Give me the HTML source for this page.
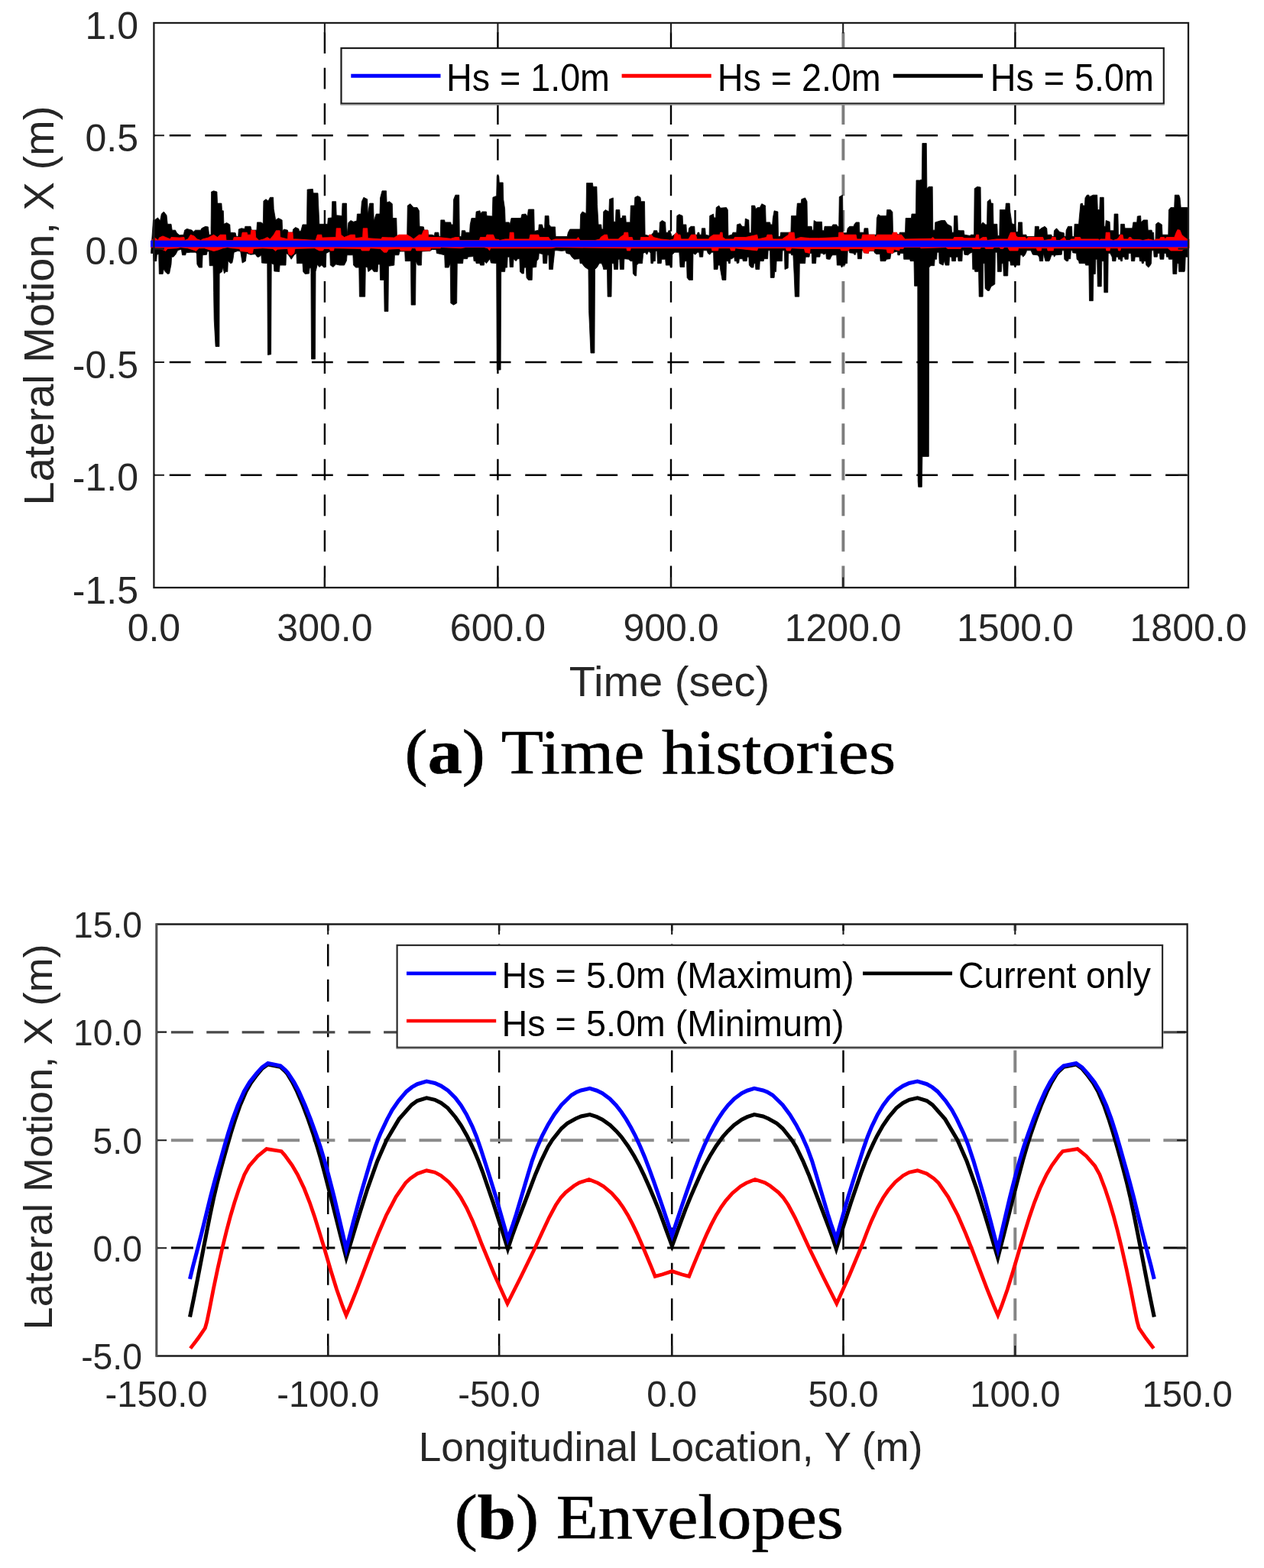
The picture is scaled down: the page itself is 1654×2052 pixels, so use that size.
<!DOCTYPE html>
<html lang="en"><head><meta charset="utf-8"><title>Lateral motion: time histories and envelopes</title>
<style>html,body{margin:0;padding:0;background:#fff;overflow:hidden}svg{display:block}.t{font-family:"Liberation Sans",sans-serif;fill:#262626}.c{font-family:"Liberation Serif",serif;fill:#000}</style></head><body>
<svg width="1654" height="2052" viewBox="0 0 1654 2052" role="img" aria-label="Lateral motion time histories and envelopes">
<rect width="1654" height="2052" fill="#fff"/>
<g id="plot-a">
<line x1="424.9" y1="769" x2="424.9" y2="30" stroke="#000" stroke-width="2.4" stroke-dasharray="27.8 18.75" stroke-dashoffset="45.8"/>
<line x1="651.4" y1="769" x2="651.4" y2="30" stroke="#000" stroke-width="2.4" stroke-dasharray="27.8 18.75" stroke-dashoffset="45.8"/>
<line x1="878" y1="769" x2="878" y2="30" stroke="#000" stroke-width="2.4" stroke-dasharray="27.8 18.75" stroke-dashoffset="45.8"/>
<line x1="1103.4" y1="769" x2="1103.4" y2="30" stroke="#7d7d7d" stroke-width="3.9" stroke-dasharray="27.8 18.75" stroke-dashoffset="45.8"/>
<line x1="1328.4" y1="769" x2="1328.4" y2="30" stroke="#000" stroke-width="2.4" stroke-dasharray="27.8 18.75" stroke-dashoffset="45.8"/>
<line x1="201.4" y1="177.2" x2="1555" y2="177.2" stroke="#000" stroke-width="2.4" stroke-dasharray="27.8 18.75" stroke-dashoffset="26.2"/>
<line x1="201.4" y1="325.6" x2="1555" y2="325.6" stroke="#000" stroke-width="2.4" stroke-dasharray="27.8 18.75" stroke-dashoffset="26.2"/>
<line x1="201.4" y1="474" x2="1555" y2="474" stroke="#000" stroke-width="2.6" stroke-dasharray="27.8 18.75" stroke-dashoffset="26.2"/>
<line x1="201.4" y1="621.7" x2="1555" y2="621.7" stroke="#000" stroke-width="2.4" stroke-dasharray="27.8 18.75" stroke-dashoffset="26.2"/>
<path d="M200.5,287.9 L202.3,287.9 L206.5,284.9 L209.5,289.1 L211.3,280 L214.3,277 L218,281.8 L219.2,293.3 L224,293.3 L225.2,301.2 L229.5,301.2 L231.3,304.8 L234.9,307.8 L240.3,307.2 L241.6,301.2 L244.6,299.4 L251.2,301.2 L253,303.6 L255.5,301.2 L262.7,301.2 L263.9,298.8 L268.8,296.3 L272.4,296.9 L273.6,307.2 L276,307.2 L276.6,251 L279.6,249.8 L283.9,251 L284.5,266.1 L289.9,266.1 L290.5,275.8 L292.3,275.8 L292.9,293.3 L296.6,291.5 L300.8,293.9 L301.4,304.2 L308.1,304.8 L309.3,309.6 L311.7,309.6 L312.3,300 L315.9,298.8 L320.1,299.4 L320.8,296.3 L328,296.3 L329.2,301.2 L335.9,301.2 L336.5,290.9 L341.3,290.9 L344.3,292.7 L344.9,263.1 L348,260.7 L351,263.1 L353.4,258.3 L357.6,258.3 L358.2,273.4 L360.7,287.9 L364.3,285.5 L369.1,287.9 L369.7,302.4 L371.5,300 L376.4,301.2 L377,304.2 L383,304.2 L383.6,300 L386.7,297.5 L390.9,299.4 L391.5,302.4 L393.6,302.4 L396,293.9 L401.5,293.9 L402.1,248 L409.3,247.4 L410,252.8 L416,252.8 L417.8,293.3 L428.7,293.3 L429.3,285.5 L434.1,284.9 L434.7,263.7 L439.6,263.7 L440.2,281.8 L447.4,282.4 L448,266.1 L453.5,266.1 L454.1,307.2 L455.9,291.5 L458.9,288.5 L462.5,290.3 L466.8,289.1 L467.4,280 L472.2,280 L473.4,263.7 L475.9,258.3 L480.7,260.7 L481.3,280.6 L483.7,266.1 L488.5,266.1 L489.2,289.1 L492.2,280 L497,280 L497.6,258.9 L500,249.8 L505.5,249.8 L506.1,264.9 L509.7,263.7 L513.3,266.7 L513.9,285.5 L518.8,285.5 L519.4,308.4 L532.7,308.4 L533.3,269.1 L536.9,266.7 L541.1,271.6 L546,271.6 L548.4,275.8 L549,296.3 L554.4,296.9 L555.1,301.2 L559.9,301.2 L560.5,307.2 L565.3,307.2 L568.4,308.4 L569,304.2 L573.8,304.2 L574.4,309.6 L576.2,309.6 L576.8,287.9 L581.7,287.9 L582.3,290.9 L589.8,290.9 L590.4,293.9 L592.9,293.9 L593.5,261.3 L595.9,255.2 L600.7,255.2 L601.3,309.6 L603.7,309.6 L604.3,301.8 L608.6,301.8 L609.2,304.2 L614.6,304.2 L615.2,293.9 L617,285.5 L622.5,285.5 L623.1,277 L627.9,275.8 L629.1,279.4 L630.9,277 L636.4,277 L637,282.4 L644.2,283 L644.9,258.3 L649.7,256.4 L650.3,230.4 L652.7,230.4 L653.3,238.9 L658.2,238.9 L658.8,261.3 L660.6,273.4 L661.2,290.9 L666,290.9 L667.2,293.9 L669,285.5 L681.7,285.5 L682.9,280.6 L687.8,280 L690.2,283 L691.4,274 L698.7,274 L699.3,302.4 L704.7,301.2 L705.3,293.9 L709.5,293.9 L710.8,298.8 L712.6,298.8 L713.2,282.4 L718,282.4 L718.6,293.9 L721,296.9 L726.5,296.9 L727.1,309.6 L742.2,309.6 L743.4,304.2 L745.8,300 L759.1,300 L759.7,280.6 L762.1,277 L767,279.4 L767.6,239.5 L775.4,239.5 L776,244.3 L780.9,244.3 L781.5,267.3 L783,293.9 L786.7,293.9 L787.3,300 L789.1,300 L789.7,277 L792.1,274.6 L796.9,277 L797.5,260.7 L802.4,258.9 L803,290.3 L805.4,290.3 L806,274.6 L810.8,274.6 L811.4,285.5 L813.9,285.5 L814.5,282.4 L818.7,282.4 L819.3,290.9 L824.7,290.9 L825.3,269.1 L830.2,269.1 L830.8,258.3 L834.4,256.4 L838,258.3 L838.6,263.7 L843.5,263.7 L844.1,307.2 L848.9,308.4 L852.5,307.2 L855,304.2 L855.6,301.8 L859.8,301.8 L860.4,304.8 L862.8,304.8 L863.4,290.9 L866.5,288.5 L870.7,290.9 L871.3,304.2 L874.3,304.2 L874.9,301.8 L876.7,301.8 L879.2,309.6 L885.2,304.8 L885.8,282.4 L888.8,280.6 L893.1,282.4 L893.7,293.9 L897.9,293.9 L898.5,304.2 L900.9,304.2 L901.5,298.8 L903.9,296.3 L908.8,296.3 L909.4,307.2 L912.4,307.2 L913,304.2 L914.8,304.2 L915.4,307.2 L917.8,307.2 L918.4,298.8 L922.7,298.8 L923.3,307.2 L928.1,308.4 L928.7,282.4 L933.6,280 L934.2,284.9 L936.6,284.9 L937.2,271.6 L940.8,269.1 L942.6,272.2 L950.5,271.6 L952.3,274.6 L952.9,308.4 L957.7,307.2 L959,304.2 L963.8,304.2 L964.4,293.9 L968.6,292.7 L971,296.3 L974.7,296.3 L975.3,286.1 L979.8,287.9 L980.4,304.8 L982.9,304.8 L983.5,269.1 L987.7,269.1 L988.9,273.4 L991.3,271.6 L994.3,271.6 L996.8,266.7 L1001.6,269.1 L1002.2,290.9 L1007.6,290.9 L1008.3,293.9 L1010.7,293.9 L1011.3,285.5 L1013.1,275.8 L1017.9,277 L1018.5,309.6 L1020.9,309.6 L1021.6,304.2 L1031.8,304.2 L1034.9,304.2 L1035.5,282.4 L1042.1,282.4 L1043.3,266.1 L1048.2,266.1 L1048.8,260.7 L1053.6,258.9 L1056,263.7 L1056.6,296.3 L1062.1,296.3 L1062.7,301.2 L1064.5,301.2 L1065.1,288.5 L1068.1,290.3 L1075.4,290.3 L1076,301.8 L1078.4,301.8 L1079,296.3 L1088.7,296.3 L1089.9,293.9 L1094.7,293.9 L1095.9,296.3 L1097.7,296.3 L1098.3,257.6 L1102.6,255.2 L1103.2,304.8 L1108,304.8 L1109.2,298.8 L1111.6,296.3 L1117.1,296.3 L1117.7,293.9 L1120.1,290.9 L1124.3,290.9 L1124.9,304.2 L1130.4,304.2 L1131,298.8 L1135.8,298.8 L1136.4,307.2 L1146.7,307.2 L1147.3,285.5 L1149.1,280.6 L1152.1,282.4 L1160,282.4 L1160.6,274.6 L1165.4,274.6 L1167.9,277.6 L1168.5,304.2 L1176.7,307.2 L1177.3,304.2 L1184.5,304.2 L1185.1,285.5 L1192.4,285.5 L1193,280 L1198.4,280 L1199,235.9 L1203.9,235.9 L1204.5,235.3 L1206.3,235.3 L1206.9,187.5 L1212.3,187.5 L1212.9,246.8 L1215.3,244.3 L1220.2,244.3 L1220.8,301.2 L1223.2,301.2 L1223.8,290.9 L1231.7,288.5 L1236.5,288.5 L1239.5,293.3 L1245,296.3 L1245.6,304.2 L1248,304.2 L1248.6,282.4 L1252.8,282.4 L1253.4,301.2 L1255.9,301.8 L1261.3,301.8 L1261.9,307.2 L1269.2,308.4 L1270.4,307.2 L1274.6,307.2 L1275.2,246.8 L1278.8,244.3 L1283.1,245 L1283.7,293.9 L1286.1,290.9 L1289.7,293.9 L1291.5,293.9 L1292.1,263.7 L1295.8,260.7 L1297,266.1 L1299.4,266.1 L1300,293.3 L1304.8,293.3 L1305.4,308.4 L1307.8,308.4 L1308.4,274.6 L1315.7,274.6 L1316.3,266.1 L1321.1,266.1 L1321.8,277 L1324.2,292.7 L1328.4,293.9 L1329.6,303.6 L1332,303.6 L1332.6,290.9 L1337.5,290.9 L1338.1,307.2 L1342.9,307.2 L1343.5,309.6 L1353.8,309.6 L1354.4,296.3 L1359.2,296.3 L1359.8,301.2 L1362.3,298.8 L1367.1,296.3 L1369.8,298.8 L1370.4,307.2 L1375.9,307.2 L1376.5,309.6 L1378.9,309.6 L1379.5,301.8 L1382.5,298.8 L1386.8,303.6 L1392.2,304.8 L1392.8,309.6 L1394.6,309.6 L1395.2,301.2 L1397.6,296.3 L1402.5,296.3 L1403.1,309.6 L1405.5,309.6 L1406.1,293.3 L1411.6,293.3 L1412.2,285.5 L1414,266.7 L1416.4,266.1 L1417,269.1 L1419.4,269.1 L1420,258.9 L1422.4,255.2 L1424.9,255.2 L1425.5,257.6 L1430.3,255.2 L1435.7,255.2 L1436.3,274.6 L1438.8,274.6 L1439.4,258.3 L1444.2,258.3 L1444.8,296.3 L1446.6,296.3 L1447.2,288.5 L1452.1,290.3 L1452.7,301.8 L1457.5,301.8 L1458.1,280 L1462.9,280 L1463.5,307.2 L1466,307.2 L1466.6,293.3 L1471.4,293.3 L1472,298.8 L1481.7,298.8 L1482.9,290.9 L1487.7,290.9 L1488.3,283 L1492.6,282.4 L1493.2,290.9 L1496.2,287.9 L1501.6,287.9 L1502.2,301.2 L1507.1,301.2 L1507.7,304.2 L1509.5,304.2 L1510.1,315.7 L1511.9,315.7 L1512.5,293.3 L1515.5,290.9 L1520.4,293.9 L1521,307.2 L1528.8,307.2 L1529.4,274.6 L1531.9,271.6 L1536.7,271.6 L1537.3,255.2 L1542.7,255.2 L1544,258.9 L1545.2,271.6 L1553.6,271.6 L1555.1,271.6 L1555.1,336.2 L1551.2,336.2 L1550.6,352.6 L1550,355.6 L1542.7,355.6 L1542.1,344.7 L1540.3,344.7 L1539.7,358.6 L1534.9,358.6 L1534.3,339.3 L1529.4,339.3 L1528.8,336.2 L1526.4,336.2 L1525.8,331.4 L1523.4,331.4 L1522.8,339.3 L1518,339.3 L1517.4,331.4 L1514.9,331.4 L1514.3,336.2 L1510.1,336.2 L1509.5,327.8 L1507.1,327.8 L1506.5,344.7 L1505.3,347.1 L1502.8,350.1 L1499.8,347.1 L1499.2,341.7 L1496.8,341.7 L1496.2,344.7 L1494.4,344.7 L1493.8,341.7 L1491.4,341.7 L1490.8,336.2 L1485.3,336.2 L1484.7,341.7 L1480.5,341.7 L1479.9,331.4 L1476.8,331.4 L1476.2,339.3 L1472,339.3 L1471.4,336.2 L1469,336.2 L1468.4,341.7 L1466.6,341.7 L1466,339.3 L1463.5,339.3 L1462.9,336.2 L1460.5,336.2 L1459.9,341.7 L1455.7,341.7 L1455.1,336.2 L1452.7,331.4 L1450.2,331.4 L1449.6,382.8 L1444.8,382.8 L1444.2,341.7 L1441.8,341.7 L1441.2,374.9 L1436.3,374.9 L1435.7,339.3 L1433.9,339.3 L1433.3,358.6 L1430.9,358.6 L1430.3,393.7 L1425.5,393.7 L1424.9,347.1 L1420.6,347.1 L1420,344.7 L1412.2,344.7 L1411.6,341.7 L1409.1,339.3 L1408.5,331.4 L1403.7,330.8 L1403.1,327.8 L1401.3,327.8 L1400.7,338.7 L1398.3,338.7 L1397.6,341.7 L1395.2,341.7 L1392.8,339.3 L1392.2,327.8 L1389.8,327.8 L1389.2,333.2 L1381.3,333.8 L1379.5,336.2 L1378.9,333.8 L1375.9,333.8 L1374.1,339.3 L1372.9,341.7 L1368,341.7 L1365.3,331.4 L1364.7,341.7 L1360.4,341.7 L1359.8,336.2 L1357.4,333.8 L1351.4,333.2 L1349,327.8 L1343.5,327.8 L1342.9,330.2 L1341.1,333.8 L1338.7,336.2 L1337.5,333.8 L1335.1,333.8 L1334.4,347.1 L1329.6,347.1 L1328.4,350.1 L1327.2,347.1 L1322.4,347.1 L1321.8,341.7 L1319.3,341.7 L1318.7,361 L1313.3,361 L1312.7,344.7 L1310.9,344.7 L1310.3,355.6 L1305.4,355.6 L1304.8,330.2 L1302.4,330.2 L1301.8,371.9 L1297,374.9 L1294.5,380.4 L1292.1,380.4 L1289.1,377.4 L1288.5,344.7 L1286.7,344.7 L1286.1,388.2 L1281.2,388.2 L1280.6,355.6 L1275.8,355.6 L1275.2,352.6 L1272.8,352.6 L1272.2,330.2 L1269.2,331.4 L1266.7,333.8 L1261.9,333.2 L1261.3,327.8 L1259.5,327.8 L1258.9,341.7 L1254,341.7 L1253.4,336.2 L1251,336.2 L1250.4,341.7 L1245.6,341.7 L1245,336.2 L1242.5,336.2 L1241.9,347.1 L1237.1,347.1 L1235.9,341.1 L1234.1,347.1 L1229.2,344.7 L1228.6,330.2 L1226.2,330.2 L1225.6,339.3 L1223.2,339.3 L1222.6,347.7 L1217.8,347.7 L1215.7,350.1 L1215.3,597.4 L1206.9,597.4 L1206.3,637.3 L1201.7,637.3 L1201.2,630.1 L1200.8,374.3 L1196.6,374.3 L1196,341.7 L1191.2,341.7 L1190.6,339.3 L1182.7,339.3 L1182.1,331.4 L1177.9,331.4 L1177.3,333.8 L1174.8,333.8 L1174.2,329 L1169.7,330.2 L1168.5,331.4 L1166,331.4 L1164.8,338.7 L1160,339.3 L1158.8,341.7 L1152.1,341.7 L1151.5,332.6 L1146.7,332.6 L1144.3,330.8 L1143.7,328.4 L1137,328.4 L1136.4,331.4 L1130.4,330.8 L1129.8,327.8 L1128,327.8 L1127.4,338.7 L1122.5,338.7 L1121.9,330.2 L1120.1,330.2 L1119.5,333.2 L1117.7,333.2 L1117.1,331.4 L1111.6,330.8 L1111,327.8 L1109.2,327.8 L1108.6,344.7 L1106.2,344.7 L1105.6,347.1 L1103.2,347.1 L1101.4,350.1 L1100.1,347.1 L1095.3,347.1 L1094.7,333.8 L1089.3,333.8 L1087.5,336.2 L1086.2,339.3 L1083.8,339.3 L1081.4,338.7 L1080.8,331.4 L1077.8,333.2 L1076,331.4 L1073.5,331.4 L1072.9,336.2 L1068.1,336.2 L1067.5,344.7 L1062.7,344.7 L1062.1,331.4 L1059.6,331.4 L1059,336.2 L1054.2,336.2 L1053.6,344.7 L1046.3,344.7 L1045.7,388.2 L1040.3,388.2 L1039.1,358 L1037.9,333.8 L1035.5,333.8 L1034.9,331.4 L1031.8,331.4 L1031.2,350.8 L1027,352.6 L1026.4,327.8 L1024,327.8 L1023.4,341.7 L1016.1,341.7 L1015.5,355.6 L1013.7,355.6 L1013.1,363.4 L1008.3,363.4 L1007.6,327.8 L1005.2,327.8 L1004.6,338.7 L999.8,338.7 L999.2,341.7 L994.3,341.7 L993.7,352.6 L988.9,352.6 L988.3,344.7 L986.5,344.7 L985.9,350.1 L982.9,350.1 L980.4,347.1 L979.8,336.2 L978,336.2 L977.1,341.7 L972.3,341.7 L971.7,338.7 L967.4,338.7 L966.8,344.1 L964.4,344.7 L963.8,341.7 L961.4,341.7 L960.8,336.2 L957.7,338.7 L955.9,338.7 L955.3,344.7 L953.5,344.7 L952.9,341.7 L950.5,341.7 L949.9,366.5 L945.1,366.5 L942.6,352.6 L942,347.1 L939.6,347.1 L939,352.6 L934.2,352.6 L933.6,330.2 L931.1,330.2 L928.7,333.2 L926.3,331.4 L925.1,327.8 L920.3,327.8 L919.7,336.2 L915.4,336.2 L914.8,330.2 L912.4,330.2 L910,333.2 L907,331.4 L906.4,366.5 L901.5,366.5 L899.1,363.4 L898.5,341.7 L896.1,341.7 L895.5,349.5 L890,349.5 L888.8,330.2 L882.8,330.2 L879.8,333.2 L879.2,350.1 L877.3,350.1 L876.7,347.1 L871.3,347.1 L870.7,339.3 L865.9,339.3 L865.2,344.7 L860.4,344.7 L859.8,328.4 L858,328.4 L857.4,341.7 L855,341.7 L854.4,344.7 L851.9,344.7 L851.3,331.4 L848.9,328.4 L846.5,333.2 L844.1,330.2 L841.7,331.4 L840.5,344.7 L835.6,344.7 L833.2,347.1 L832.6,361 L830.8,361 L828.4,358 L827.8,341.7 L825.3,341.7 L822.3,339.3 L816.9,338.7 L816.3,352.6 L811.4,352.6 L810.8,339.3 L809,339.3 L808.4,352.6 L803.6,352.6 L803,344.7 L800.6,344.7 L800,388.2 L795.1,388.2 L794.5,352.6 L789.7,352.6 L789.1,349.5 L787.3,344.7 L784.2,344.7 L781.5,349.5 L778.5,352.6 L777.9,462 L773,462 L770.6,406.4 L770,352.6 L765.2,349.5 L761.5,344.7 L759.1,344.7 L758.5,338.7 L751.3,339.3 L748.2,336.2 L745.8,332.6 L741,331.4 L739.8,327.8 L734.9,328.4 L728.9,327.8 L725.9,327.8 L724.1,344.7 L723.4,352.6 L718.6,352.6 L718,333.8 L716.2,333.8 L715.6,344.7 L710.8,344.7 L710.1,332.6 L705.3,331.4 L704.7,338.7 L702.3,341.7 L701.7,349.5 L696.8,350.1 L696.2,366.5 L691.4,366.5 L689,363.4 L688.4,350.1 L686,350.1 L685.4,358 L682.9,358 L680.5,355.6 L679.9,338.7 L677.5,338.7 L675.1,341.7 L672.1,338.7 L671.5,349.5 L667.2,349.5 L666.6,336.2 L664.2,336.2 L663.6,350.1 L661.2,350.1 L660.6,355.6 L655.7,355.6 L655.1,484 L650.3,484 L649.7,344.7 L642.4,344.1 L641.2,338.7 L638.8,341.7 L636.4,344.7 L634,341.7 L633.4,347.1 L628.5,347.1 L627.9,344.7 L623.1,344.7 L622.5,341.7 L620.1,341.7 L619.5,335.6 L612.2,336.2 L611.6,338.7 L606.2,338.7 L605.6,344.7 L598.3,344.7 L597.7,396.7 L593.5,399.1 L589.8,396.7 L589.2,344.7 L587.1,350.1 L582.3,350.1 L581.7,333.8 L576.8,332.6 L571.4,331.4 L570.8,326.6 L565.3,326.6 L562.9,328.4 L552,329 L551.4,347.1 L546.6,347.1 L544.2,341.7 L543.6,399.1 L538.1,399.1 L537.5,341.7 L530.3,341.7 L529.7,329 L523,329 L521.8,333.8 L516.4,333.8 L515.8,347.1 L508.5,348.3 L507.9,407.6 L503.1,407.6 L502.5,366.5 L497.6,366.5 L497,345.9 L494.6,345.9 L494,355.6 L489.2,355.6 L486.7,352 L481.9,355.6 L480.7,349.5 L478.3,349.5 L477.7,388.2 L470.4,388.2 L469.8,350.1 L465.6,350.1 L462.5,347.1 L461.9,333.8 L454.1,333.8 L453.5,341.1 L450.5,347.1 L444.4,347.1 L439.6,345.9 L435.9,349.5 L432.3,347.1 L431.7,329 L426.9,331.4 L426.3,349.5 L423.9,350.1 L420.8,347.1 L417.8,349.5 L415.4,345.9 L413,355.6 L412.4,469.9 L407.5,469.9 L406.9,350.8 L405.1,350.8 L404.5,358 L399.1,358.6 L396.7,355.6 L396,344.7 L388.5,344.7 L387.9,331.4 L384.8,333.8 L381.2,339.3 L377.6,333.8 L374.6,331.4 L374,347.1 L369.7,347.1 L366.1,347.1 L365.5,355.6 L358.8,355 L358.2,345.9 L355.2,344.7 L354.6,463.8 L350.4,464.4 L349.8,344.7 L342.5,344.1 L341.9,333.8 L338.9,336.2 L336.5,336.2 L334.1,332.6 L328,333.2 L322.6,331.4 L321.4,341.7 L317.1,344.1 L314.7,329 L311.1,328.4 L306.2,330.2 L305,338.7 L303.8,344.1 L301.4,344.7 L298.4,341.1 L297.8,355.6 L295.4,355.6 L293.5,358 L291.7,349.5 L290.5,355.6 L287.1,358 L286.9,453.5 L282.1,453.5 L280.2,418.5 L279.6,382.2 L279,347.7 L274.2,347.7 L273.6,329 L271.2,329 L270.6,333.2 L265.1,333.8 L264.5,350.1 L260.3,350.1 L257.9,345.9 L257.3,331.4 L255.5,330.2 L249.4,330.2 L243.4,330.8 L242.8,333.8 L238.5,333.8 L237.3,326 L232.5,327.8 L230.1,332.6 L227,336.2 L224.6,336.2 L224,345.9 L221.6,358 L219.2,358.6 L216.2,355.6 L214.3,352 L213.1,358.6 L208.3,358.6 L207.7,332.6 L205.3,333.2 L204.7,341.7 L201,341.7 L200.4,331.4 L197.5,331.4Z" fill="#000" stroke="#000" stroke-width="0.8" stroke-linejoin="round"/>
<path d="M199.8,312.9 L202.3,311.1 L207.1,314.5 L208.3,311.1 L213.1,308.9 L222.8,312.9 L224,310.5 L234.9,311.1 L240.9,310.5 L241.6,314.5 L245.8,312.9 L249.4,307.2 L254.2,308.9 L257.9,312.9 L262.7,314.5 L265.1,312.9 L272.4,311.1 L279.6,307.2 L284.5,310.5 L288.1,307.2 L295.4,307.2 L296,314.5 L305,314.5 L306.2,310.5 L315.9,310.5 L317.1,304.2 L323.2,304.2 L323.8,307.2 L328,307.2 L328.6,301.2 L334.1,301.8 L334.7,310.5 L338.9,314.5 L344.9,312.9 L349.8,310.5 L353.4,312.9 L358.2,307.2 L361.3,301.8 L366.1,301.8 L366.7,310.5 L376.4,312.9 L377,304.2 L383,304.2 L383.6,312.9 L388.5,312.9 L413,314.5 L415.4,307.2 L420.8,307.2 L421.4,311.1 L439.6,310.5 L440.2,298.8 L445.6,298.8 L446.2,307.2 L450.5,310.5 L458.9,307.2 L464.4,307.2 L465,311.7 L474.6,310.5 L475.2,298.8 L480.7,298.8 L481.3,311.7 L498.8,312.9 L500,310.5 L515.8,311.1 L521.8,307.2 L532.7,307.2 L538.1,310.5 L541.1,312.9 L548.4,307.2 L552,307.2 L554.4,301.2 L559.9,301.2 L560.5,310.5 L573.8,310.5 L589.8,312.3 L595.9,310.5 L600.7,310.5 L601.3,314.5 L627.3,314.5 L628.5,310.5 L635.8,310.5 L637,307.2 L645.5,307.2 L647.9,312.9 L652.7,313.5 L653.9,314.5 L661.2,312.9 L666.6,312.9 L667.2,304.2 L672.1,304.2 L672.7,312.9 L692.6,312.9 L693.8,307.2 L704.7,307.2 L705.9,310.5 L718,310.5 L719.2,312.9 L721.6,314.5 L726.5,312.9 L754.3,312.9 L756.7,310.5 L759.1,314.5 L778.5,314.5 L784.8,312.9 L786,310.5 L790.9,307.2 L794.5,307.2 L795.7,312.9 L809,312.9 L811.4,310.5 L816.3,307.2 L816.9,304.2 L821.7,304.2 L822.3,310.5 L827.2,310.5 L828.4,314.5 L838,314.5 L838.6,310.5 L848.9,310.5 L849.5,307.2 L852.5,307.2 L855,310.5 L864.6,312.9 L876.7,314.1 L881.6,312.9 L882.8,307.2 L885.2,304.2 L887.6,307.2 L890,307.2 L891.2,312.9 L900.9,312.9 L904.5,307.2 L910.6,307.2 L911.8,312.9 L927.5,312.9 L928.7,310.5 L933.6,307.2 L942,307.2 L942.6,304.2 L945.1,304.2 L945.7,310.5 L949.3,312.9 L960.2,312.9 L961.4,310.5 L975.9,310.5 L990.7,307.2 L991.9,312.9 L1002.8,310.5 L1004,307.2 L1010.1,307.2 L1011.3,312.9 L1016.1,312.9 L1023.4,312.9 L1031.8,307.2 L1032.4,304.2 L1039.1,304.2 L1040.3,312.9 L1047.5,310.5 L1059.6,311.7 L1071.7,311.7 L1097.1,310.5 L1097.7,304.2 L1103.2,304.2 L1104.4,307.2 L1120.1,307.2 L1121.3,312.9 L1127.4,312.9 L1128.6,307.2 L1144.3,307.2 L1145.5,310.5 L1147.9,307.2 L1167.3,307.2 L1168.5,304.2 L1173.6,304.2 L1174.2,307.2 L1179.7,307.2 L1182.1,310.5 L1184.5,312.9 L1218.4,312.3 L1220.8,310.5 L1223.2,312.9 L1247.4,312.9 L1248.6,310.5 L1259.5,310.5 L1261.9,311.7 L1276.4,311.7 L1277.6,307.2 L1280.6,307.2 L1281.2,313.5 L1286.1,310.5 L1290.9,310.5 L1291.5,314.5 L1304.2,312.9 L1318.7,312.9 L1321.1,307.2 L1322.4,304.2 L1328.4,304.2 L1329.6,308.9 L1332,310.5 L1341.7,310.5 L1342.9,312.9 L1345.3,310.5 L1364.7,310.5 L1365.9,314.5 L1375.9,312.9 L1376.5,310.5 L1381.3,310.5 L1381.9,314.5 L1386.8,314.5 L1392.8,310.5 L1395.2,314.5 L1400.1,314.5 L1401.3,312.9 L1406.1,312.9 L1406.7,310.5 L1413.4,310.5 L1414.6,312.9 L1437.5,312.9 L1438.8,314.5 L1440,312.9 L1446.6,312.9 L1447.2,304.2 L1452.1,304.2 L1452.7,312.9 L1456.9,314.5 L1461.7,312.9 L1464.2,310.5 L1466,307.2 L1469,307.2 L1470.2,312.9 L1476.2,312.9 L1477.5,310.5 L1479.9,310.5 L1481.1,312.9 L1484.7,313.5 L1490.8,313.5 L1495.6,314.5 L1502.8,312.9 L1510.1,314.5 L1512.5,312.9 L1517.4,312.9 L1518.6,310.5 L1523.4,310.5 L1524.6,312.9 L1526.4,310.5 L1536.7,310.5 L1539.1,304.2 L1540.9,300.6 L1544,301.2 L1546.4,307.2 L1550,310.5 L1553.6,312.9 L1556,312.9 L1556,324.8 L1550,325.4 L1546.4,328 L1531.9,328 L1528.2,324.8 L1466.6,324.8 L1466,328 L1463.5,328 L1462.9,324.8 L1452.7,324.8 L1452.1,328 L1447.8,328 L1447.2,324.8 L1378.9,324.8 L1378.3,328 L1371,328 L1370.4,324.8 L1362.9,324.8 L1362.3,328 L1357.4,328 L1356.2,324.8 L1351.4,324.8 L1332.6,324.8 L1332,328 L1321.1,328 L1318.7,323.7 L1313.9,323.7 L1312.7,325.4 L1309.1,325.4 L1307.8,323.7 L1300.6,323.7 L1299.4,325.4 L1289.7,325.4 L1288.5,323.7 L1283.7,323.7 L1282.5,325.4 L1272.8,325.4 L1271.6,323.7 L1258.3,323.7 L1257.1,325.4 L1240.1,325.4 L1237.7,323.7 L1205.1,324.8 L1203.9,323.7 L1182.7,323.7 L1182.1,325.4 L1177.3,325.4 L1176.7,328 L1169.7,326.2 L1168.5,331.4 L1161.2,330.8 L1160,326.2 L1144.3,325.4 L1143.7,328 L1137,328 L1136.4,331.4 L1130.4,330.8 L1128.6,325.4 L1111.6,325.4 L1110.4,328 L1100.8,328 L1099.5,325.4 L1060.2,325.4 L1059.6,331.4 L1053.6,330.2 L1052.4,325.4 L1035.5,324.8 L1034.2,328 L1029.4,328 L1028.2,324.8 L991.9,324.8 L990.7,328 L962,324.8 L961.4,328 L956.5,328 L955.3,324.8 L940.2,324.8 L939.6,328 L931.8,328 L931.1,324.8 L825.3,324.8 L824.7,328 L820.5,328 L819.9,324.8 L727.7,323.7 L721.6,324.8 L693.8,324.8 L681.7,324.8 L641.8,324.8 L640.6,328 L638.2,324.8 L633.4,323.7 L609.2,323.7 L603.1,324.8 L577.4,323.7 L576.2,324.8 L563.5,324.8 L562.9,328 L544.8,328 L543.6,324.8 L538.7,324.8 L537.5,328 L524.2,328 L523,325.4 L508.5,326.2 L506.1,330.2 L502.5,330.2 L497.6,325.4 L484.3,324.8 L483.1,328 L473.4,328 L472.2,325.4 L437.2,324.8 L436.6,328 L432.3,328 L431.1,325.4 L423.9,325.4 L422.6,328 L417.8,328 L411.8,324.8 L386,325.4 L384.8,331.4 L381.2,334.4 L377.6,332.6 L376.4,325.4 L363.1,326.2 L360.7,328.6 L357,325.4 L343.7,324.8 L331.6,325.4 L330.4,331.4 L325.6,331.4 L324.4,329.6 L314.7,328.6 L313.5,325.4 L303.8,324.8 L297.8,323.7 L291.7,324.8 L284.5,327.4 L279.6,328.6 L276,327.4 L267.5,324.8 L260.3,324.8 L256.7,328.6 L254.2,327.4 L245.8,324.8 L236.1,323.7 L231.3,324.8 L219.2,325.4 L216.8,328.6 L213.1,326.8 L205.3,324.8 L199.8,323.7 L197.4,323.7Z" fill="#ff0000" stroke="#ff0000" stroke-width="0.8" stroke-linejoin="round"/>
<rect x="197.0" y="314.7" width="1359.0" height="8.6" fill="#0000ff"/>
<path d="M424.9,769v-13.5 M424.9,30v13.5 M651.4,769v-13.5 M651.4,30v13.5 M878,769v-13.5 M878,30v13.5 M1103.2,769v-13.5 M1103.2,30v13.5 M1328.4,769v-13.5 M1328.4,30v13.5 M201.4,177.2h13.5 M1555,177.2h-13.5 M201.4,325.6h13.5 M1555,325.6h-13.5 M201.4,474h13.5 M1555,474h-13.5 M201.4,621.7h13.5 M1555,621.7h-13.5" stroke="#1c1c1c" stroke-width="2.0999999999999996" fill="none"/>
<rect x="201.4" y="30" width="1353.6" height="739" fill="none" stroke="#1c1c1c" stroke-width="2.3"/>
<rect x="446.5" y="63" width="1076.3" height="72.5" fill="#fff" stroke="#1c1c1c" stroke-width="2.2"/>
<line x1="445.4" y1="136.8" x2="1523.9" y2="136.8" stroke="#8f8f8f" stroke-width="1.8"/>
<line x1="459.3" y1="99.3" x2="576.5" y2="99.3" stroke="#0000ff" stroke-width="5"/>
<text class="t" x="584" y="119" font-size="50" text-anchor="start" textLength="214" lengthAdjust="spacingAndGlyphs" fill="#000" style="fill:#000">Hs = 1.0m</text>
<line x1="813.6" y1="99.3" x2="930.7" y2="99.3" stroke="#ff0000" stroke-width="5"/>
<text class="t" x="938.7" y="119" font-size="50" text-anchor="start" textLength="214" lengthAdjust="spacingAndGlyphs" fill="#000" style="fill:#000">Hs = 2.0m</text>
<line x1="1168.8" y1="99.3" x2="1286" y2="99.3" stroke="#000" stroke-width="5"/>
<text class="t" x="1295.8" y="119" font-size="50" text-anchor="start" textLength="214" lengthAdjust="spacingAndGlyphs" fill="#000" style="fill:#000">Hs = 5.0m</text>
<text class="t" x="201.4" y="838.5" font-size="50" text-anchor="middle">0.0</text>
<text class="t" x="424.9" y="838.5" font-size="50" text-anchor="middle">300.0</text>
<text class="t" x="651.4" y="838.5" font-size="50" text-anchor="middle">600.0</text>
<text class="t" x="878" y="838.5" font-size="50" text-anchor="middle">900.0</text>
<text class="t" x="1103.2" y="838.5" font-size="50" text-anchor="middle">1200.0</text>
<text class="t" x="1328.4" y="838.5" font-size="50" text-anchor="middle">1500.0</text>
<text class="t" x="1555" y="838.5" font-size="50" text-anchor="middle">1800.0</text>
<text class="t" x="181" y="50.5" font-size="50" text-anchor="end">1.0</text>
<text class="t" x="181" y="197.7" font-size="50" text-anchor="end">0.5</text>
<text class="t" x="181" y="346.1" font-size="50" text-anchor="end">0.0</text>
<text class="t" x="181" y="494.5" font-size="50" text-anchor="end">-0.5</text>
<text class="t" x="181" y="642.2" font-size="50" text-anchor="end">-1.0</text>
<text class="t" x="181" y="789.5" font-size="50" text-anchor="end">-1.5</text>
<text class="t" x="876" y="911.3" font-size="56" text-anchor="middle">Time (sec)</text>
<text class="t" x="70" y="400" font-size="56" text-anchor="middle" transform="rotate(-90 70 400)">Lateral Motion, X (m)</text>
</g>
<text class="c" transform="translate(850.8 1012) scale(1.082 1)" x="0" y="0" font-size="83.5" text-anchor="middle" stroke="#000" stroke-width="0.6">(<tspan font-weight="bold">a</tspan>) Time histories</text>
<g id="plot-b">
<line x1="429.2" y1="1774.5" x2="429.2" y2="1209.5" stroke="#000" stroke-width="2.5" stroke-dasharray="29 17.375" stroke-dashoffset="0"/>
<line x1="653.1" y1="1774.5" x2="653.1" y2="1209.5" stroke="#000" stroke-width="2.5" stroke-dasharray="29 17.375" stroke-dashoffset="0"/>
<line x1="879.2" y1="1774.5" x2="879.2" y2="1209.5" stroke="#000" stroke-width="2.5" stroke-dasharray="29 17.375" stroke-dashoffset="0"/>
<line x1="1103.5" y1="1774.5" x2="1103.5" y2="1209.5" stroke="#000" stroke-width="2.5" stroke-dasharray="29 17.375" stroke-dashoffset="0"/>
<line x1="1328.3" y1="1774.5" x2="1328.3" y2="1209.5" stroke="#858585" stroke-width="4.0" stroke-dasharray="29 17.375" stroke-dashoffset="0"/>
<line x1="204.6" y1="1350.9" x2="1553.6" y2="1350.9" stroke="#484848" stroke-width="3.3" stroke-dasharray="29 17.375" stroke-dashoffset="27.1"/>
<line x1="204.6" y1="1492.2" x2="1553.6" y2="1492.2" stroke="#8a8a8a" stroke-width="3.9" stroke-dasharray="29 17.375" stroke-dashoffset="27.1"/>
<line x1="204.6" y1="1632.9" x2="1553.6" y2="1632.9" stroke="#0a0a0a" stroke-width="3.0" stroke-dasharray="29 17.375" stroke-dashoffset="27.1"/>
<polyline points="248.5,1723.5 253.5,1699.3 258.5,1673.9 266.4,1633 270.5,1612 274.8,1590.5 279.9,1566.3 284.2,1548.1 288.9,1530 291.9,1519.1 297,1500.9 302.2,1482.8 307.9,1464.6 314.2,1446.5 321.9,1428.4 328.5,1417 336.2,1406.5 343.2,1398.2 350.6,1393 367,1396.3 373,1401.8 375.8,1405 382.7,1416.3 388.7,1428.4 396.4,1446.5 403.2,1464.6 409.5,1482.8 415.2,1500.9 420.5,1519.1 425.3,1537.2 430,1555.3 433.2,1567.7 445,1614.6 453.1,1646 464.5,1608 470,1590 481,1555.3 493.9,1519.1 505.9,1491.9 522.1,1464.6 538.6,1445.9 546.1,1440.5 558.2,1436.8 569.1,1439.3 577.3,1443.5 585.9,1450.1 596.1,1462.2 603.5,1473.1 611.1,1486.4 615.9,1496.1 620.9,1507 626,1519.1 631.5,1533.5 645.2,1573.5 656.8,1609.7 664.5,1634.5 670,1618 675.1,1604 686.7,1573.5 700.5,1537.2 708.2,1519.1 717,1500.9 722.6,1491.9 734.7,1476.7 742.4,1470.1 753.2,1464 760.3,1461 771.8,1458.6 781,1461.6 788.2,1465.2 798.4,1472.5 806.6,1480.4 812.9,1487.6 821.7,1499.7 829.9,1513 836.5,1525.1 842.9,1538.4 849.4,1552.9 855.6,1567.4 862,1583.1 867.4,1597.7 872.1,1610.5 875.9,1621 879.4,1630.5 882.9,1621 886.7,1610.5 891.4,1597.7 896.8,1583.1 903.2,1567.4 909.4,1552.9 915.9,1538.4 922.3,1525.1 928.9,1513 937.1,1499.7 945.9,1487.6 952.2,1480.4 960.4,1472.5 970.6,1465.2 977.8,1461.6 987,1458.6 998.5,1461 1005.6,1464 1016.4,1470.1 1024.1,1476.7 1036.2,1491.9 1041.8,1500.9 1050.6,1519.1 1058.3,1537.2 1072.1,1573.5 1083.7,1604 1088.8,1618 1094.3,1634.5 1102,1609.7 1113.6,1573.5 1127.3,1533.5 1132.8,1519.1 1137.9,1507 1142.9,1496.1 1147.7,1486.4 1155.3,1473.1 1162.7,1462.2 1172.9,1450.1 1181.5,1443.5 1189.7,1439.3 1200.6,1436.8 1212.7,1440.5 1220.2,1445.9 1236.7,1464.6 1252.9,1491.9 1264.9,1519.1 1277.8,1555.3 1288.8,1590 1294.3,1608 1305.7,1646 1313.8,1614.6 1325.6,1567.7 1328.8,1555.3 1333.5,1537.2 1338.3,1519.1 1343.6,1500.9 1349.3,1482.8 1355.6,1464.6 1362.4,1446.5 1370.1,1428.4 1376.1,1416.3 1383,1405 1385.8,1401.8 1391.8,1396.3 1408.2,1393 1415.6,1398.2 1422.6,1406.5 1430.3,1417 1436.9,1428.4 1444.6,1446.5 1450.9,1464.6 1456.6,1482.8 1461.8,1500.9 1466.9,1519.1 1469.9,1530 1474.6,1548.1 1478.9,1566.3 1484,1590.5 1488.3,1612 1492.4,1633 1500.3,1673.9 1505.3,1699.3 1510.3,1723.5" fill="none" stroke="#000" stroke-width="5.1" stroke-linejoin="miter" stroke-miterlimit="8"/>
<polyline points="248.5,1673.9 252.6,1657 258.9,1633 263.9,1613.4 269.5,1590.5 275.4,1566.3 280.2,1548.1 285.2,1530 288.3,1519.1 293.4,1500.9 298.7,1482.8 304.5,1464.6 311.2,1446.5 319.3,1428.4 326.6,1416.3 335.2,1405.4 342.8,1396.9 350.6,1391.5 367,1394.8 373.6,1400.6 376.9,1404.2 384.8,1416.3 391.2,1428.4 399.2,1446.5 406.4,1464.6 413,1482.8 419.2,1500.9 424.7,1519.1 429.7,1537.2 434.4,1555.3 437.5,1567.7 448.5,1614.6 453.1,1635 462.1,1600 470.7,1567.7 474.3,1555.3 479.6,1537.2 485,1519.1 491,1500.9 494.3,1491.9 498.1,1482.8 506.7,1464.6 513.2,1452.6 521.5,1440.5 531.9,1428.4 538.8,1422.9 546.1,1418.7 558.2,1415.1 569.1,1417.5 577.1,1421.1 586.3,1427.2 595.8,1436.8 603.2,1446.5 610.5,1458.6 618.1,1474.3 623.5,1487.5 629,1503.3 639.9,1537.2 649.1,1567 661.3,1609.7 664.5,1621.5 671.3,1602 675.5,1589 680.1,1573.5 685.5,1555.3 690.8,1537.2 696.3,1519.1 702.5,1502.1 709.5,1486.4 717.1,1471.9 725.2,1458.6 734.7,1445.9 747.7,1433.2 754.8,1429 760.3,1426.9 771.8,1424.3 781,1427.2 788.2,1430.8 798,1438 806.2,1446.5 812.9,1455 819.3,1464.6 825.6,1475.5 831.3,1486.4 837.5,1499.7 843.6,1514.2 849.6,1529.9 855.3,1545.7 860.8,1561.4 866.6,1578.3 872.6,1596.4 879.4,1617 886.2,1596.4 892.2,1578.3 898,1561.4 903.5,1545.7 909.2,1529.9 915.2,1514.2 921.3,1499.7 927.5,1486.4 933.2,1475.5 939.5,1464.6 945.9,1455 952.6,1446.5 960.8,1438 970.6,1430.8 977.8,1427.2 987,1424.3 998.5,1426.9 1004,1429 1011.1,1433.2 1024.1,1445.9 1033.6,1458.6 1041.7,1471.9 1049.3,1486.4 1056.3,1502.1 1062.5,1519.1 1068,1537.2 1073.3,1555.3 1078.7,1573.5 1083.3,1589 1087.5,1602 1094.3,1621.5 1097.5,1609.7 1109.7,1567 1118.9,1537.2 1129.8,1503.3 1135.3,1487.5 1140.7,1474.3 1148.3,1458.6 1155.6,1446.5 1163,1436.8 1172.5,1427.2 1181.7,1421.1 1189.7,1417.5 1200.6,1415.1 1212.7,1418.7 1220,1422.9 1226.9,1428.4 1237.3,1440.5 1245.6,1452.6 1252.1,1464.6 1260.7,1482.8 1264.5,1491.9 1267.8,1500.9 1273.8,1519.1 1279.2,1537.2 1284.5,1555.3 1288.1,1567.7 1296.7,1600 1305.7,1635 1310.3,1614.6 1321.3,1567.7 1324.4,1555.3 1329.1,1537.2 1334.1,1519.1 1339.6,1500.9 1345.8,1482.8 1352.4,1464.6 1359.6,1446.5 1367.6,1428.4 1374,1416.3 1381.9,1404.2 1385.2,1400.6 1391.8,1394.8 1408.2,1391.5 1416,1396.9 1423.6,1405.4 1432.2,1416.3 1439.5,1428.4 1447.6,1446.5 1454.3,1464.6 1460.1,1482.8 1465.4,1500.9 1470.5,1519.1 1473.6,1530 1478.6,1548.1 1483.4,1566.3 1489.3,1590.5 1494.9,1613.4 1499.9,1633 1506.2,1657 1510.3,1673.9" fill="none" stroke="#0000ff" stroke-width="5.1" stroke-linejoin="miter" stroke-miterlimit="8"/>
<polyline points="249.1,1764.6 259.3,1751.3 268.4,1738 270.8,1729.5 274.5,1711.4 279.2,1687.2 284.8,1660.6 291,1633 296.5,1610.5 301.7,1591 306.9,1573.5 312.5,1556.5 319.8,1537.2 326,1526 337.3,1513 348.8,1503.6 368.2,1506.7 372.7,1511.8 382.3,1525.1 389.4,1537.2 398,1555.3 405.2,1573.5 411.4,1591.6 417.1,1609.7 423,1629 433,1663 440.5,1687.2 448.1,1709 453,1721.3 458.3,1709 467.1,1687.2 480.9,1650.9 487.7,1633 495,1614.6 505.4,1590.5 518.1,1566.3 530.7,1548.1 537.1,1542.1 546.1,1536 558.2,1531.8 569.1,1534.2 577,1538.5 587.3,1546.9 596.6,1557.8 603.2,1567.5 610.6,1580.8 618.4,1597.7 624,1611.5 630.5,1628.5 646.9,1668 664,1706 681.6,1671 699.4,1634.5 709.8,1612 718.7,1593 727.3,1577 734.1,1567 740.1,1560.5 750.9,1552 758,1547.8 770.8,1543.5 782.2,1548.1 789.6,1552.4 800.4,1561.4 808.9,1571.1 815,1579.6 821.7,1590.5 828.1,1602.6 833.8,1614.6 840.2,1629.2 846.3,1643.7 852.3,1658.2 857.2,1670.3 866.9,1667.8 879.4,1663.6 891.9,1667.8 901.6,1670.3 906.5,1658.2 912.5,1643.7 918.6,1629.2 925,1614.6 930.7,1602.6 937.1,1590.5 943.8,1579.6 949.9,1571.1 958.4,1561.4 969.2,1552.4 976.6,1548.1 988,1543.5 1000.8,1547.8 1007.9,1552 1018.7,1560.5 1024.7,1567 1031.5,1577 1040.1,1593 1049,1612 1059.4,1634.5 1077.2,1671 1094.8,1706 1111.9,1668 1128.3,1628.5 1134.8,1611.5 1140.4,1597.7 1148.2,1580.8 1155.6,1567.5 1162.2,1557.8 1171.5,1546.9 1181.8,1538.5 1189.7,1534.2 1200.6,1531.8 1212.7,1536 1221.7,1542.1 1228.1,1548.1 1240.7,1566.3 1253.4,1590.5 1263.8,1614.6 1271.1,1633 1277.9,1650.9 1291.7,1687.2 1300.5,1709 1305.8,1721.3 1310.7,1709 1318.3,1687.2 1325.8,1663 1335.8,1629 1341.7,1609.7 1347.4,1591.6 1353.6,1573.5 1360.8,1555.3 1369.4,1537.2 1376.5,1525.1 1386.1,1511.8 1390.6,1506.7 1410,1503.6 1421.5,1513 1432.8,1526 1439,1537.2 1446.3,1556.5 1451.9,1573.5 1457.1,1591 1462.3,1610.5 1467.8,1633 1474,1660.6 1479.6,1687.2 1484.3,1711.4 1488,1729.5 1490.4,1738 1499.5,1751.3 1509.7,1764.6" fill="none" stroke="#ff0000" stroke-width="4.8" stroke-linejoin="miter" stroke-miterlimit="8"/>
<path d="M429.2,1774.5v-13.5 M429.2,1209.5v13.5 M653.1,1774.5v-13.5 M653.1,1209.5v13.5 M879.2,1774.5v-13.5 M879.2,1209.5v13.5 M1103.5,1774.5v-13.5 M1103.5,1209.5v13.5 M1328.3,1774.5v-13.5 M1328.3,1209.5v13.5 M204.6,1350.6h13.5 M1553.6,1350.6h-13.5 M204.6,1492.2h13.5 M1553.6,1492.2h-13.5 M204.6,1633.2h13.5 M1553.6,1633.2h-13.5" stroke="#1c1c1c" stroke-width="2.0999999999999996" fill="none"/>
<path d="M204.6,1209.5H1553.6V1774.5H204.6" fill="none" stroke="#1c1c1c" stroke-width="2.3" stroke-linejoin="miter"/>
<line x1="204.8" y1="1208.3" x2="204.8" y2="1775.7" stroke="#505050" stroke-width="3.1"/>
<rect x="519.6" y="1237" width="1001.5" height="133.8" fill="#fff" stroke="#2a2a2a" stroke-width="2.2"/>
<line x1="518.5" y1="1372.2" x2="1522.2" y2="1372.2" stroke="#9a9a9a" stroke-width="1.6"/>
<line x1="532" y1="1273.9" x2="649.2" y2="1273.9" stroke="#0000ff" stroke-width="4.6"/>
<text class="t" x="656.5" y="1293.4" font-size="48" text-anchor="start" textLength="461" lengthAdjust="spacingAndGlyphs" fill="#000" style="fill:#000">Hs = 5.0m (Maximum)</text>
<line x1="532" y1="1336" x2="649.2" y2="1336" stroke="#ff0000" stroke-width="4.6"/>
<text class="t" x="656.5" y="1355.5" font-size="48" text-anchor="start" textLength="448" lengthAdjust="spacingAndGlyphs" fill="#000" style="fill:#000">Hs = 5.0m (Minimum)</text>
<line x1="1129" y1="1273.9" x2="1246" y2="1273.9" stroke="#000" stroke-width="4.6"/>
<text class="t" x="1254" y="1293.4" font-size="48" text-anchor="start" textLength="252" lengthAdjust="spacingAndGlyphs" fill="#000" style="fill:#000">Current only</text>
<text class="t" x="204.6" y="1840.6" font-size="49" text-anchor="middle" textLength="134.1" lengthAdjust="spacingAndGlyphs">-150.0</text>
<text class="t" x="429.2" y="1840.6" font-size="49" text-anchor="middle" textLength="134.1" lengthAdjust="spacingAndGlyphs">-100.0</text>
<text class="t" x="653.1" y="1840.6" font-size="49" text-anchor="middle" textLength="107.8" lengthAdjust="spacingAndGlyphs">-50.0</text>
<text class="t" x="879.2" y="1840.6" font-size="49" text-anchor="middle" textLength="65.7" lengthAdjust="spacingAndGlyphs">0.0</text>
<text class="t" x="1103.5" y="1840.6" font-size="49" text-anchor="middle" textLength="92" lengthAdjust="spacingAndGlyphs">50.0</text>
<text class="t" x="1328.3" y="1840.6" font-size="49" text-anchor="middle" textLength="118.3" lengthAdjust="spacingAndGlyphs">100.0</text>
<text class="t" x="1553.6" y="1840.6" font-size="49" text-anchor="middle" textLength="118.3" lengthAdjust="spacingAndGlyphs">150.0</text>
<text class="t" x="186" y="1226.8" font-size="49" text-anchor="end" textLength="90.1" lengthAdjust="spacingAndGlyphs">15.0</text>
<text class="t" x="186" y="1367.9" font-size="49" text-anchor="end" textLength="90.1" lengthAdjust="spacingAndGlyphs">10.0</text>
<text class="t" x="186" y="1509.5" font-size="49" text-anchor="end" textLength="64.4" lengthAdjust="spacingAndGlyphs">5.0</text>
<text class="t" x="186" y="1650.5" font-size="49" text-anchor="end" textLength="64.4" lengthAdjust="spacingAndGlyphs">0.0</text>
<text class="t" x="186" y="1791.8" font-size="49" text-anchor="end" textLength="79.8" lengthAdjust="spacingAndGlyphs">-5.0</text>
<text class="t" x="877.5" y="1912" font-size="54" text-anchor="middle" textLength="659.7" lengthAdjust="spacingAndGlyphs">Longitudinal Location, Y (m)</text>
<text class="t" x="67.5" y="1488" font-size="52.5" text-anchor="middle" textLength="504.9" lengthAdjust="spacingAndGlyphs" transform="rotate(-90 67.5 1488)">Lateral Motion, X (m)</text>
</g>
<text class="c" transform="translate(849.3 2013) scale(1.082 1)" x="0" y="0" font-size="83.5" text-anchor="middle" stroke="#000" stroke-width="0.6">(<tspan font-weight="bold">b</tspan>) Envelopes</text>
</svg></body></html>
